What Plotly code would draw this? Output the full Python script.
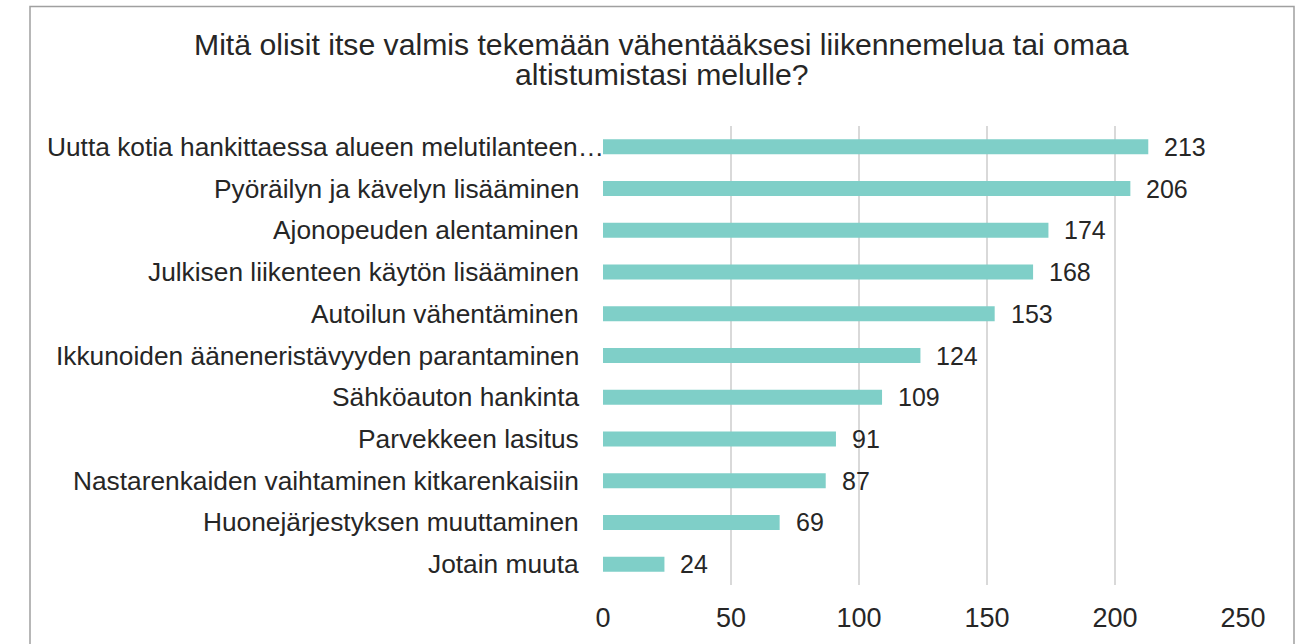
import plotly.graph_objects as go

categories = [
    "Uutta kotia hankittaessa alueen melutilanteen…",
    "Pyöräilyn ja kävelyn lisääminen",
    "Ajonopeuden alentaminen",
    "Julkisen liikenteen käytön lisääminen",
    "Autoilun vähentäminen",
    "Ikkunoiden ääneneristävyyden parantaminen",
    "Sähköauton hankinta",
    "Parvekkeen lasitus",
    "Nastarenkaiden vaihtaminen kitkarenkaisiin",
    "Huonejärjestyksen muuttaminen",
    "Jotain muuta",
]
values = [213, 206, 174, 168, 153, 124, 109, 91, 87, 69, 24]
x_ticks = [0, 50, 100, 150, 200, 250]
title_lines = [
    "Mitä olisit itse valmis tekemään vähentääksesi liikennemelua tai omaa",
    "altistumistasi melulle?",
]

W, H = 1303, 644
L, R, T, B = 603, 1243, 126, 585

FONT = "Liberation Sans, Arial, sans-serif"
TXT = "#262626"
BAR = "#7fcfc8"

fig = go.Figure(go.Bar(
    x=values, y=categories, orientation="h",
    marker=dict(color=BAR, line=dict(width=0)),
    width=0.36, hoverinfo="x+y",
))

def px_x(p):
    return (p - L) / (R - L)

def px_y(p):
    return (B - p) / (B - T)

ann = []
for i, c in enumerate(categories):
    ann.append(dict(
        x=px_x(606) if i == 0 else px_x(581), xref="paper", xanchor="right",
        y=c, yref="y", yanchor="middle", text=c, showarrow=False,
        font=dict(family=FONT, size=26.3, color=TXT),
    ))
for c, v in zip(categories, values):
    ann.append(dict(
        x=v, xref="x", xanchor="left", xshift=14,
        y=c, yref="y", yanchor="middle", text=str(v), showarrow=False,
        font=dict(family=FONT, size=25, color=TXT),
    ))
for line, yc in zip(title_lines, [45, 75]):
    ann.append(dict(
        x=px_x(661.5), xref="paper", xanchor="center",
        y=px_y(yc), yref="paper", yanchor="middle", text=line, showarrow=False,
        font=dict(family=FONT, size=30.2, color=TXT),
    ))

fig.update_layout(
    width=W, height=H,
    margin=dict(l=L, r=W - R, t=T, b=H - B, pad=0),
    paper_bgcolor="white", plot_bgcolor="white",
    showlegend=False,
    annotations=ann,
    shapes=[dict(
        type="rect", xref="paper", yref="paper",
        x0=px_x(30), x1=px_x(1294), y0=px_y(660), y1=px_y(6.5),
        line=dict(color="#a0a0a0", width=1.5), fillcolor="rgba(0,0,0,0)",
        layer="below",
    )],
    xaxis=dict(
        range=[0, 250], tickvals=x_ticks, ticktext=[str(t) for t in x_ticks],
        showgrid=True, gridcolor="#d9d9d9", gridwidth=1.5,
        zeroline=False, showline=False, ticks="",
        tickfont=dict(family=FONT, size=27, color=TXT),
        ticklabelstandoff=14, fixedrange=True,
    ),
    yaxis=dict(
        autorange="reversed", showticklabels=False, showgrid=False,
        zeroline=False, showline=False, ticks="", fixedrange=True,
    ),
)

fig.write_html(
    "out.html",
    config={"displayModeBar": False},
    post_script="document.body.style.margin='0';document.body.style.overflow='hidden';",
)
